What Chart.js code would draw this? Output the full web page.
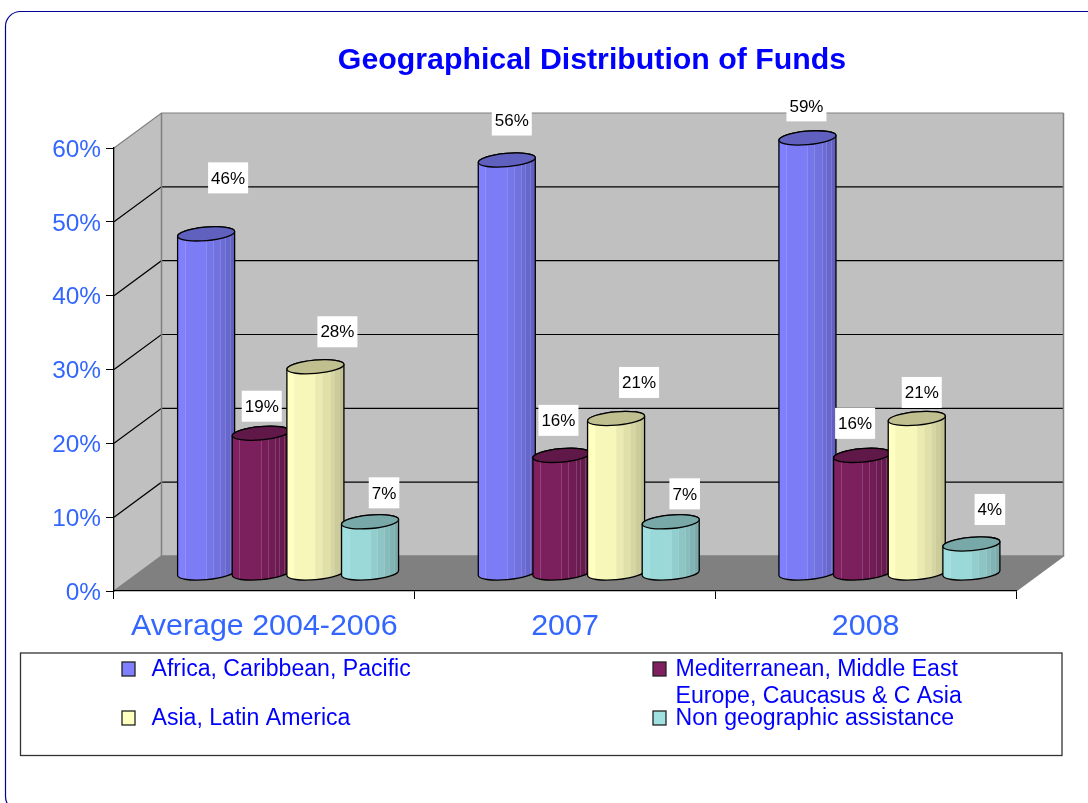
<!DOCTYPE html>
<html><head><meta charset="utf-8">
<style>html,body{margin:0;padding:0;background:#fff;overflow:hidden}canvas{display:block}</style>
<script src="https://cdn.jsdelivr.net/npm/chart.js@4/dist/chart.umd.min.js"></script>
</head><body>
<canvas id="c" width="1088" height="803"></canvas>
<script>
const chartTitle = 'Geographical Distribution of Funds';
const categories = ['Average 2004-2006', '2007', '2008'];
const africa = [46, 56, 59];
const mediterranean = [19, 16, 16];
const asia = [28, 21, 21];
const nonGeographic = [7, 7, 4];
const seriesNames = [
  ['Africa, Caribbean, Pacific'],
  ['Mediterranean, Middle East', 'Europe, Caucasus & C Asia'],
  ['Asia, Latin America'],
  ['Non geographic assistance']
];
const seriesValues = [africa, mediterranean, asia, nonGeographic];
const seriesColors = ['#8080FF', '#802060', '#FFFFC0', '#A0E0E0'];
const yTicks = [0, 10, 20, 30, 40, 50, 60];

// Drawing style
const DX = 47.5, DY = 35;
const FONT = '"Liberation Sans", Arial, sans-serif';
const TICK_BLUE = '#3366FF';
const LEGEND_SLOTS = [
  {sx:122, sy:662, tx:151.5, ty:670},
  {sx:653, sy:662, tx:675.5, ty:670},
  {sx:122, sy:711, tx:151.5, ty:719},
  {sx:653, sy:711, tx:675.5, ty:719}
];
// label offsets from each cylinder's top centre: [series][category]
const LABEL_OFFSETS = [
  [[22,-55],[5,-39],[-1,-31]],
  [[1,-26],[-3,-34],[-7,-31]],
  [[22,-34],[23,-35],[5,-25]],
  [[14,-28],[14,-27],[18.5,-33.5]]
];
const STRIPES = [[.128,1],[.5,.97],[.622,.92],[.75,.88],[.826,.84],[.913,.80],[1,.76]];

function shade(hex, f){
  const n = parseInt(hex.slice(1),16);
  return 'rgb('+[(n>>16)&255,(n>>8)&255,n&255].map(v=>Math.round(v*f)).join(',')+')';
}

function drawCylinder(ctx, el, color){
  const w = el.width + 2.6, rx = w/2, ry = 6.7, rot = -5*Math.PI/180;
  const cx = el.x + DX/2, ty = el.y - DY/2, by = el.base - DY/2;
  const left = cx - rx;
  const g = ctx.createLinearGradient(left,0,left+w,0);
  let prev = 0;
  STRIPES.forEach(([end,f])=>{
    g.addColorStop(prev, shade(color,f));
    g.addColorStop(end, shade(color,f));
    prev = end;
  });
  const body = new Path2D();
  body.ellipse(cx,by,rx,ry,rot,Math.PI,0,true);
  body.ellipse(cx,ty,rx,ry,rot,0,Math.PI,true);
  body.closePath();
  ctx.save();
  ctx.fillStyle = g;
  ctx.fill(body);
  ctx.save();
  ctx.clip(body);
  ctx.strokeStyle = 'rgba(255,255,255,.16)';
  ctx.lineWidth = 1;
  STRIPES.slice(0,-1).forEach(([end])=>{
    const sx = Math.round(left+w*end)+.5;
    ctx.beginPath(); ctx.moveTo(sx,ty); ctx.lineTo(sx,by+ry); ctx.stroke();
  });
  ctx.restore();
  ctx.lineWidth = 1.3;
  ctx.strokeStyle = '#000';
  ctx.stroke(body);
  const cap = new Path2D();
  cap.ellipse(cx,ty,rx,ry,rot,0,Math.PI*2);
  ctx.fillStyle = shade(color,.75);
  ctx.fill(cap);
  ctx.stroke(cap);
  ctx.restore();
}

const scene = {
  id:'scene',
  beforeDraw(chart){
    const ctx = chart.ctx, a = chart.chartArea, y = chart.scales.y;
    const l=a.left, r=a.right, t=a.top, b=a.bottom;
    // nudge the value-axis labels to the reference's text baseline
    y.getLabelItems(a).forEach(it=>{ if(!it._nudged){ it.textOffset += 2; it._nudged = true; } });
    ctx.save();
    ctx.fillStyle='#fff'; ctx.fillRect(0,0,chart.width,chart.height);
    // outer frame
    ctx.beginPath(); ctx.roundRect(5.5,11.5,1300,800,15);
    ctx.strokeStyle='#000099'; ctx.lineWidth=1.2; ctx.stroke();
    // walls and floor
    ctx.fillStyle='#C0C0C0';
    ctx.beginPath(); ctx.moveTo(l,t); ctx.lineTo(l+DX,t-DY); ctx.lineTo(l+DX,b-DY); ctx.lineTo(l,b); ctx.closePath(); ctx.fill();
    ctx.fillRect(l+DX,t-DY,r-l,b-t);
    ctx.fillStyle='#808080';
    ctx.beginPath(); ctx.moveTo(l,b); ctx.lineTo(l+DX,b-DY); ctx.lineTo(r+DX,b-DY); ctx.lineTo(r,b); ctx.closePath(); ctx.fill();
    // gridlines
    ctx.lineWidth=1.2; ctx.strokeStyle='#000';
    yTicks.forEach(v=>{
      if(v===0) return;
      const p=y.getPixelForValue(v);
      ctx.strokeStyle = v===60 ? '#808080' : '#000';
      ctx.beginPath(); ctx.moveTo(l,p); ctx.lineTo(l+DX,p-DY); ctx.lineTo(r+DX,p-DY); ctx.stroke();
    });
    // wall edges
    ctx.strokeStyle='#808080'; ctx.lineWidth=1.5;
    ctx.beginPath();
    ctx.moveTo(l+DX,t-DY); ctx.lineTo(l+DX,b-DY); ctx.lineTo(l,b);
    ctx.moveTo(l+DX,b-DY); ctx.lineTo(r+DX,b-DY); ctx.lineTo(r+DX,t-DY);
    ctx.moveTo(r+DX,b-DY); ctx.lineTo(r,b);
    ctx.stroke();
    ctx.restore();
  },
  beforeDatasetsDraw(chart){
    chart.data.datasets.forEach((ds,si)=>{
      chart.getDatasetMeta(si).data.forEach(el=>drawCylinder(chart.ctx,el,ds.backgroundColor));
    });
  },
  beforeDatasetDraw(){ return false; },
  afterDraw(chart){
    const ctx=chart.ctx;
    ctx.save();
    // title
    ctx.font='bold 30.3px '+FONT; ctx.fillStyle='#0000FF';
    ctx.textAlign='center'; ctx.textBaseline='middle';
    ctx.fillText(chartTitle,592,61);
    // data labels
    ctx.font='17px '+FONT;
    chart.data.datasets.forEach((ds,si)=>{
      chart.getDatasetMeta(si).data.forEach((el,ci)=>{
        const [ox,oy]=LABEL_OFFSETS[si][ci];
        const x=el.x+DX/2+ox, y=el.y-DY/2+oy, txt=ds.data[ci]+'%';
        const w=ctx.measureText(txt).width+6;
        ctx.fillStyle='#fff'; ctx.fillRect(x-w/2,y-16.5,w,31);
        ctx.fillStyle='#000'; ctx.fillText(txt,x,y);
      });
    });
    // legend
    ctx.strokeStyle='#333'; ctx.lineWidth=1.3;
    ctx.strokeRect(20.5,653,1041.5,102.5);
    ctx.textAlign='left'; ctx.font='23.1px '+FONT;
    chart.data.datasets.forEach((ds,si)=>{
      const s=LEGEND_SLOTS[si];
      ctx.fillStyle=ds.backgroundColor; ctx.fillRect(s.sx,s.sy,13,14);
      ctx.strokeStyle='#222'; ctx.strokeRect(s.sx,s.sy,13,14);
      ctx.fillStyle='#0000FF';
      seriesNames[si].forEach((line,i)=>ctx.fillText(line,s.tx,s.ty+i*27));
    });
    ctx.restore();
  }
};

new Chart(document.getElementById('c'),{
  type:'bar',
  data:{
    labels:categories,
    datasets:seriesValues.map((vals,i)=>({
      label:seriesNames[i].join(' '),
      data:vals,
      backgroundColor:seriesColors[i],
      categoryPercentage:.727,
      barPercentage:1
    }))
  },
  options:{
    responsive:false,
    animation:false,
    devicePixelRatio:1,
    layout:{padding:{top:148,right:72,left:0,bottom:0}},
    plugins:{legend:{display:false},title:{display:false},tooltip:{enabled:false}},
    scales:{
      x:{
        afterFit(s){s.height=212;},
        grid:{drawOnChartArea:false,color:'#000',tickLength:8,offset:true},
        border:{color:'#000',width:1.3},
        ticks:{color:TICK_BLUE,font:{family:FONT,size:30.4},maxRotation:0,autoSkip:false,padding:9}
      },
      y:{
        min:0,max:60,
        afterFit(s){s.width=114;},
        afterBuildTicks(s){s.ticks=yTicks.map(v=>({value:v}));},
        grid:{drawOnChartArea:false,color:'#000',tickLength:8},
        border:{color:'#000',width:1.3},
        ticks:{color:TICK_BLUE,font:{family:FONT,size:24.4},padding:5,callback:v=>v+'%'}
      }
    }
  },
  plugins:[scene]
});
</script>
</body></html>
